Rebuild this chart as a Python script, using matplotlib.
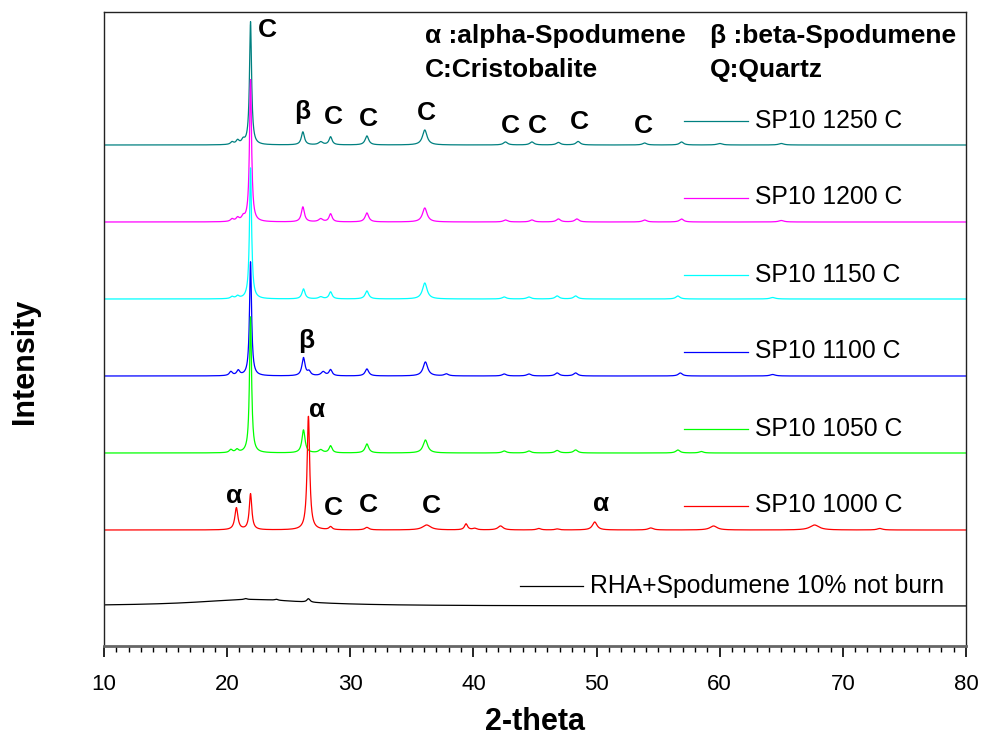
import numpy as np
import matplotlib
matplotlib.use('Agg')
import matplotlib.pyplot as plt
from matplotlib.ticker import MultipleLocator

plt.rcParams['font.family'] = ['Liberation Sans', 'DejaVu Sans']

# peak tables: position (2-theta), height, FWHM
labels = ['SP10 1250 C', 'SP10 1200 C', 'SP10 1150 C', 'SP10 1100 C',
          'SP10 1050 C', 'SP10 1000 C', 'RHA+Spodumene 10% not burn']
colors = ['#008080', '#ff00ff', '#00ffff', '#0000ff', '#00ff00', '#ff0000', '#000000']
offsets = [501, 424, 347, 270, 193, 116, 40]

pos_1250 = [20.4, 20.85, 21.3, 21.9, 26.15, 27.6, 28.4, 31.35, 36.05, 42.6, 44.75, 46.9, 48.5, 53.9, 56.9, 60.0, 65.0]
h_1250 = [2.5, 4, 4, 123, 13, 3, 8, 9, 15, 3, 3, 2.5, 3.5, 2, 3, 1.5, 1.5]
w_1250 = [0.3, 0.3, 0.3, 0.2, 0.3, 0.4, 0.3, 0.35, 0.45, 0.4, 0.4, 0.4, 0.4, 0.4, 0.4, 0.5, 0.5]

pos_1200 = [20.4, 20.85, 21.3, 21.9, 26.15, 27.6, 28.4, 31.35, 36.05, 42.6, 44.75, 46.9, 48.4, 53.9, 56.9, 65.0]
h_1200 = [2.5, 3.5, 4, 142, 15, 3, 8, 9, 14, 2, 2, 3, 3, 2, 3, 1.5]
w_1200 = [0.3, 0.3, 0.3, 0.2, 0.3, 0.4, 0.3, 0.35, 0.45, 0.4, 0.4, 0.4, 0.4, 0.4, 0.4, 0.5]

pos_1150 = [20.4, 20.85, 21.9, 26.2, 27.6, 28.4, 31.35, 36.05, 42.5, 44.5, 46.8, 48.3, 56.6, 64.3]
h_1150 = [2, 2.5, 131, 10, 2, 7, 8, 16, 2, 2, 3, 3, 3, 1.5]
w_1150 = [0.3, 0.3, 0.2, 0.3, 0.4, 0.3, 0.35, 0.45, 0.4, 0.4, 0.4, 0.4, 0.4, 0.5]

pos_1100 = [20.3, 20.9, 21.9, 26.2, 26.65, 27.8, 28.4, 31.35, 36.1, 37.8, 42.5, 44.5, 46.8, 48.3, 56.8, 64.3]
h_1100 = [4, 5, 114, 18, 4, 4, 6, 7, 14, 2, 2, 2, 3, 3, 3, 1.5]
w_1100 = [0.3, 0.3, 0.2, 0.3, 0.3, 0.4, 0.3, 0.35, 0.45, 0.4, 0.4, 0.4, 0.4, 0.4, 0.4, 0.5]

pos_1050 = [20.3, 20.8, 21.9, 26.2, 27.6, 28.4, 31.35, 36.1, 42.5, 44.5, 46.8, 48.3, 56.6, 58.5]
h_1050 = [3, 3, 136, 23, 3, 7, 9, 13, 2, 2, 2.5, 3, 3, 1.5]
w_1050 = [0.3, 0.3, 0.2, 0.3, 0.4, 0.3, 0.35, 0.45, 0.4, 0.4, 0.4, 0.4, 0.4, 0.4]

pos_1000 = [20.75, 21.9, 26.6, 28.4, 31.35, 36.2, 39.4, 40.1, 42.2, 45.3, 46.8, 49.85, 54.4, 59.5, 67.7, 73.0]
h_1000 = [22, 36, 114, 3, 2.5, 5, 6, 1.5, 4, 1.5, 1, 8, 2, 4, 5, 1.5]
w_1000 = [0.3, 0.25, 0.25, 0.3, 0.4, 0.8, 0.3, 0.4, 0.5, 0.4, 0.4, 0.45, 0.5, 0.7, 0.9, 0.5]

pos_raw = [22.0, 26.6, 21.5, 24.0]
h_raw = [6.5, 3.5, 1, 1]
w_raw = [11.0, 0.3, 0.3, 0.3]

peaks = [(pos_1250, h_1250, w_1250), (pos_1200, h_1200, w_1200),
         (pos_1150, h_1150, w_1150), (pos_1100, h_1100, w_1100),
         (pos_1050, h_1050, w_1050), (pos_1000, h_1000, w_1000),
         (pos_raw, h_raw, w_raw)]

# phase markers: (text, x, y)
marks = [('C', 23.25, 616), ('β', 26.1, 534), ('C', 28.6, 529), ('C', 31.5, 527),
         ('C', 36.2, 533), ('C', 43.0, 520), ('C', 45.2, 520), ('C', 48.6, 524),
         ('C', 53.8, 520), ('β', 26.4, 305), ('α', 27.3, 236), ('α', 20.6, 150),
         ('C', 28.6, 138), ('C', 31.5, 141), ('C', 36.55, 140), ('α', 50.4, 142)]

x = np.linspace(10, 80, 4001)


def pattern(pos, h, w):
    y = np.zeros_like(x)
    for p, a, fw in zip(pos, h, w):
        y += a / (1 + ((x - p) / (fw / 2)) ** 2)
    return y


fig = plt.figure(figsize=(9.84, 7.4), dpi=100)
ax = fig.add_axes([104 / 984, 1 - 646 / 740, 862 / 984, 634 / 740])

for (pos, h, w), off, c, lab in zip(peaks, offsets, colors, labels):
    ax.plot(x, pattern(pos, h, w) + off, color=c, lw=0.9)
    if lab.startswith('RHA'):
        x0, x1, xt, dy = 43.8, 48.9, 49.5, 20
    else:
        x0, x1, xt, dy = 57.1, 62.3, 62.9, 24.5
    ax.plot([x0, x1], [off + dy, off + dy], color=c, lw=0.9)
    ax.text(xt, off + dy, lab, fontsize=17.8, va='center', ha='left')

for t, mx, my in marks:
    ax.text(mx, my, t, fontsize=19, fontweight='bold', ha='center', va='center')

ax.text(36.07, 610, 'α :alpha-Spodumene', fontsize=19, fontweight='bold', va='center')
ax.text(36.07, 576, 'C:Cristobalite', fontsize=19, fontweight='bold', va='center')
ax.text(59.2, 610, 'β :beta-Spodumene', fontsize=19, fontweight='bold', va='center')
ax.text(59.2, 576, 'Q:Quartz', fontsize=19, fontweight='bold', va='center')

ax.set_xlim(10, 80)
ax.set_ylim(0, 634)
ax.set_yticks([])
ax.xaxis.set_major_locator(MultipleLocator(10))
ax.xaxis.set_minor_locator(MultipleLocator(1))
ax.tick_params(axis='x', which='major', direction='out', length=8, width=1.2, labelsize=16, pad=12)
ax.tick_params(axis='x', which='minor', direction='out', length=4.5, width=1)
for s in ax.spines.values():
    s.set_color('#222222')
    s.set_linewidth(1)
ax.spines['bottom'].set_color('#666666')
ax.spines['bottom'].set_linewidth(2)

fig.text(535 / 984, 1 - 722 / 740, '2-theta', fontsize=22, fontweight='bold', ha='center', va='center')
fig.text(25 / 984, 1 - 361 / 740, 'Intensity', fontsize=22, fontweight='bold',
         ha='center', va='center', rotation=90)

fig.savefig('out.png', dpi=100)
